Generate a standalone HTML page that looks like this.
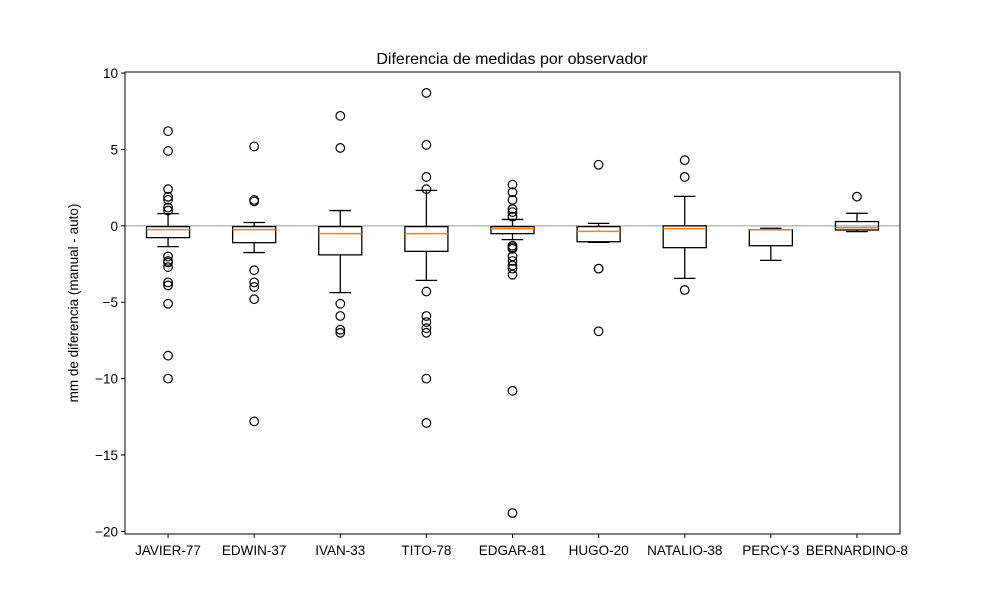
<!DOCTYPE html>
<html><head><meta charset="utf-8"><style>
body{margin:0;background:#fff}
svg{display:block;font-family:"Liberation Sans","DejaVu Sans",sans-serif}
</style></head><body>
<svg id="chart" width="1000" height="600" xmlns="http://www.w3.org/2000/svg">
<rect width="1000" height="600" fill="#fff"/>
<text x="512" y="64" text-anchor="middle" font-size="16">Diferencia de medidas por observador</text>
<text transform="translate(78,303) rotate(-90)" text-anchor="middle" font-size="13.5">mm de diferencia (manual - auto)</text>
<g id="plot"></g>
</svg>
<script>
const categories=["JAVIER-77","EDWIN-37","IVAN-33","TITO-78","EDGAR-81","HUGO-20","NATALIO-38","PERCY-3","BERNARDINO-8"];
const q1=[-0.77,-1.1,-1.9,-1.67,-0.51,-1.04,-1.43,-1.3,-0.27];
const medians=[-0.25,-0.25,-0.51,-0.51,-0.18,-0.36,-0.18,-0.25,-0.12];
const q3=[-0.05,-0.05,-0.05,-0.05,-0.05,-0.05,0.0,-0.25,0.28];
const whiskerLow=[-1.36,-1.75,-4.37,-3.57,-0.9,-1.08,-3.44,-2.26,-0.38];
const whiskerHigh=[0.8,0.22,1.0,2.32,0.42,0.16,1.93,-0.16,0.82];
const outliers=[
 [6.2,4.9,2.4,1.9,1.7,1.2,1.0,-2.0,-2.3,-2.4,-2.7,-3.7,-3.9,-5.1,-8.5,-10.0],
 [5.2,1.7,1.6,-2.9,-3.7,-4.0,-4.8,-12.8],
 [7.2,5.1,-5.1,-5.9,-6.8,-7.0],
 [8.7,5.3,3.2,2.4,-4.3,-5.9,-6.3,-6.7,-7.0,-10.0,-12.9],
 [2.7,2.2,1.7,1.1,0.9,0.6,-1.3,-1.4,-1.5,-2.0,-2.3,-2.6,-2.8,-3.2,-10.8,-18.8],
 [4.0,-2.8,-2.8,-6.9],
 [4.3,3.2,-4.2],
 [],
 [1.91]
];
const yTicks=[10,5,0,-5,-10,-15,-20];

const L=125,R=900,T=72,B=534;
const yMin=-20.17,yMax=10.07;
const y=v=>T+(yMax-v)/(yMax-yMin)*(B-T);
const x=i=>L+(i+1-0.5)/9*(R-L);
const boxW=0.5/9*(R-L);
const NS="http://www.w3.org/2000/svg";
const g=document.getElementById('plot');
function mk(tag,attrs,parent){const e=document.createElementNS(NS,tag);for(const k in attrs)e.setAttribute(k,attrs[k]);(parent||g).appendChild(e);return e;}

const zl=mk('line',{x1:L,x2:R,y1:y(0),y2:y(0),stroke:'#999','stroke-width':1});



yTicks.forEach(t=>{
 const tk=mk('line',{x1:L-4,x2:L,y1:y(t),y2:y(t),stroke:'#000','stroke-width':1});
 
 
 const tl=mk('text',{x:L-7,y:y(t)+5,'text-anchor':'end','font-size':13.5});
 tl.textContent=t<0?'\u2212'+Math.abs(t):String(t);
 
 
});

categories.forEach((c,i)=>{
 const cx=x(i);
 const grp=mk('g',{});
 
 
 const st={stroke:'#000','stroke-width':1.3,fill:'none'};
 mk('line',Object.assign({x1:cx,x2:cx,y1:y(q3[i]),y2:y(whiskerHigh[i])},st),grp);
 mk('line',Object.assign({x1:cx,x2:cx,y1:y(q1[i]),y2:y(whiskerLow[i])},st),grp);
 mk('line',Object.assign({x1:cx-boxW/4,x2:cx+boxW/4,y1:y(whiskerHigh[i]),y2:y(whiskerHigh[i])},st),grp);
 mk('line',Object.assign({x1:cx-boxW/4,x2:cx+boxW/4,y1:y(whiskerLow[i]),y2:y(whiskerLow[i])},st),grp);
 mk('rect',Object.assign({x:cx-boxW/2,y:y(q3[i]),width:boxW,height:y(q1[i])-y(q3[i])},st),grp);
 mk('line',{x1:cx-boxW/2,x2:cx+boxW/2,y1:y(medians[i]),y2:y(medians[i]),stroke:'#ff7f0e','stroke-width':1.5},grp);
 outliers[i].forEach(v=>{
  const o=mk('circle',{cx:cx,cy:y(v),r:4.3,fill:'none',stroke:'#000','stroke-width':1.2},grp);
  
  
 });
 const tk=mk('line',{x1:cx,x2:cx,y1:B,y2:B+4,stroke:'#000','stroke-width':1});
 
 
 const tl=mk('text',{x:cx,y:B+21,'text-anchor':'middle','font-size':13.5});
 tl.textContent=c;
 
 
});

const frame=mk('rect',{x:L,y:T,width:R-L,height:B-T,fill:'none',stroke:'#000','stroke-width':1});


</script>
</body></html>
